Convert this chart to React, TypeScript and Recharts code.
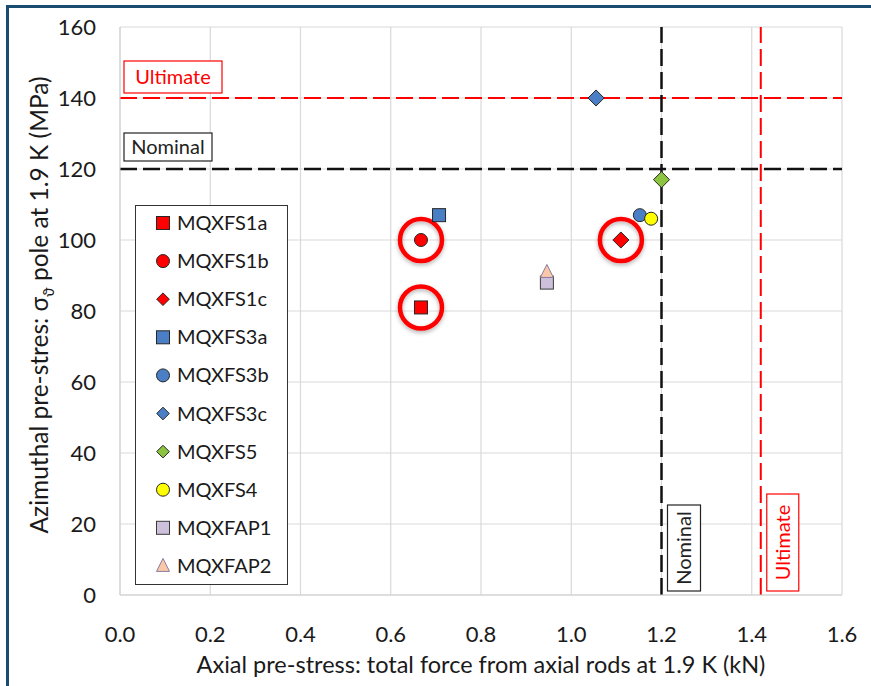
import React from "react";
import {
  ScatterChart,
  Scatter,
  XAxis,
  YAxis,
  CartesianGrid,
  ReferenceLine,
} from "recharts";

// Magnet pre-stress measurements at 1.9 K: axial force (kN) vs azimuthal stress (MPa)
const MQXFS1a = [{ x: 0.667, y: 81 }];
const MQXFS1b = [{ x: 0.667, y: 100 }];
const MQXFS1c = [{ x: 1.11, y: 100 }];
const MQXFS3a = [{ x: 0.707, y: 107 }];
const MQXFS3b = [{ x: 1.152, y: 107 }];
const MQXFS3c = [{ x: 1.055, y: 140 }];
const MQXFS5 = [{ x: 1.2, y: 117 }];
const MQXFS4 = [{ x: 1.177, y: 106 }];
const MQXFAP1 = [{ x: 0.946, y: 88 }];
const MQXFAP2 = [{ x: 0.946, y: 91 }];

// Points circled on the plot
const circled = [...MQXFS1a, ...MQXFS1b, ...MQXFS1c];

// Design limits
const NOMINAL_AXIAL = 1.2;
const ULTIMATE_AXIAL = 1.42;
const NOMINAL_AZIMUTHAL = 120;
const ULTIMATE_AZIMUTHAL = 140;

const xTicks = [0, 0.2, 0.4, 0.6, 0.8, 1.0, 1.2, 1.4, 1.6];
const yTicks = [0, 20, 40, 60, 80, 100, 120, 140, 160];

const FONT = "Lato, 'Open Sans', sans-serif";
const OUTLINE = "#262626";
const DASH = "17 6";

type Kind = "square" | "circle" | "diamond" | "triangle";

const seriesList: { name: string; data: { x: number; y: number }[]; kind: Kind; fill: string; stroke: string }[] = [
  { name: "MQXFS1a", data: MQXFS1a, kind: "square", fill: "#ff0000", stroke: OUTLINE },
  { name: "MQXFS1b", data: MQXFS1b, kind: "circle", fill: "#ff0000", stroke: OUTLINE },
  { name: "MQXFS1c", data: MQXFS1c, kind: "diamond", fill: "#ff0000", stroke: OUTLINE },
  { name: "MQXFS3a", data: MQXFS3a, kind: "square", fill: "#4a7fc6", stroke: OUTLINE },
  { name: "MQXFS3b", data: MQXFS3b, kind: "circle", fill: "#4a7fc6", stroke: OUTLINE },
  { name: "MQXFS3c", data: MQXFS3c, kind: "diamond", fill: "#4a7fc6", stroke: OUTLINE },
  { name: "MQXFS5", data: MQXFS5, kind: "diamond", fill: "#8cc43f", stroke: OUTLINE },
  { name: "MQXFS4", data: MQXFS4, kind: "circle", fill: "#ffff00", stroke: OUTLINE },
  { name: "MQXFAP1", data: MQXFAP1, kind: "square", fill: "#ccc0da", stroke: "#3a3a3a" },
  { name: "MQXFAP2", data: MQXFAP2, kind: "triangle", fill: "#f8c8a8", stroke: "#8a7aa0" },
];

function Marker({ kind, cx, cy, fill, stroke, size }: { kind: Kind; cx: number; cy: number; fill: string; stroke: string; size: number }) {
  const h = size / 2;
  if (kind === "square") {
    return <rect x={cx - h} y={cy - h} width={size} height={size} fill={fill} stroke={stroke} strokeWidth={1} />;
  }
  if (kind === "circle") {
    return <circle cx={cx} cy={cy} r={h} fill={fill} stroke={stroke} strokeWidth={1} />;
  }
  if (kind === "diamond") {
    const d = h * 1.15;
    return (
      <polygon
        points={`${cx},${cy - d} ${cx + d},${cy} ${cx},${cy + d} ${cx - d},${cy}`}
        fill={fill}
        stroke={stroke}
        strokeWidth={1}
      />
    );
  }
  return (
    <polygon
      points={`${cx},${cy - h - 1} ${cx + h},${cy + h - 1} ${cx - h},${cy + h - 1}`}
      fill={fill}
      stroke={stroke}
      strokeWidth={1}
    />
  );
}

function XTick(props: any) {
  const { x, y, payload } = props;
  return (
    <text x={x} y={y + 39} textAnchor="middle" fontSize={22} fontFamily={FONT} fill="#1a1a1a">
      {Number(payload.value).toFixed(1)}
    </text>
  );
}

function YTick(props: any) {
  const { y, payload } = props;
  return (
    <text x={96} y={y + 8} textAnchor="end" fontSize={22} fontFamily={FONT} fill="#1a1a1a">
      {payload.value}
    </text>
  );
}

function HBoxLabel({ viewBox, text, color, width, height, gap }: any) {
  const x = viewBox.x + 4;
  const y = viewBox.y - gap - height;
  return (
    <g>
      <rect x={x} y={y} width={width} height={height} fill="#ffffff" stroke={color} strokeWidth={1.2} />
      <text
        x={x + width / 2}
        y={y + height / 2 + 7}
        textAnchor="middle"
        fontSize={20}
        fontFamily={FONT}
        fill={color}
      >
        {text}
      </text>
    </g>
  );
}

function VBoxLabel({ viewBox, text, color, width, height }: any) {
  const x = viewBox.x + 6;
  const bottom = viewBox.y + viewBox.height - 4;
  const y = bottom - height;
  const cx = x + width / 2;
  const cy = y + height / 2;
  return (
    <g>
      <rect x={x} y={y} width={width} height={height} fill="#ffffff" stroke={color} strokeWidth={1.2} />
      <text
        x={cx}
        y={cy + 7}
        textAnchor="middle"
        fontSize={20}
        fontFamily={FONT}
        fill={color}
        transform={`rotate(-90 ${cx} ${cy})`}
      >
        {text}
      </text>
    </g>
  );
}

function LegendBox() {
  return (
    <div
      style={{
        position: "absolute",
        left: 135,
        top: 205,
        width: 153,
        height: 380,
        border: "1.5px solid #333",
        background: "#fff",
        boxSizing: "border-box",
      }}
    >
      <svg width={150} height={377} style={{ display: "block" }}>
        {seriesList.map((s, i) => {
          const cy = 17 + i * 38.1;
          return (
            <g key={s.name}>
              <Marker kind={s.kind} cx={27} cy={cy} fill={s.fill} stroke={s.stroke} size={s.kind === "diamond" ? 11 : 13} />
              <text x={41} y={cy + 7} fontSize={20} fontFamily={FONT} fill="#1a1a1a">
                {s.name}
              </text>
            </g>
          );
        })}
      </svg>
    </div>
  );
}

export default function App() {
  return (
    <div style={{ position: "absolute", left: 0, top: 0, width: 871, height: 686, background: "#fff" }}>
      <div
        style={{
          position: "absolute",
          left: 6,
          top: 5,
          right: 0,
          bottom: 0,
          borderLeft: "3px solid #1a4c70",
          borderTop: "3px solid #1a4c70",
        }}
      />
      <div style={{ position: "absolute", left: 0, top: 0 }}>
        <ScatterChart width={871} height={686} margin={{ top: 27, right: 29, bottom: 31, left: 0 }}>
          <defs>
            <filter id="ringShadow" x="-50%" y="-50%" width="200%" height="200%">
              <feDropShadow dx="0" dy="2" stdDeviation="2" floodColor="#000" floodOpacity="0.3" />
            </filter>
          </defs>
          <CartesianGrid stroke="#d9d9d9" strokeWidth={1.2} />
          <XAxis
            type="number"
            dataKey="x"
            domain={[0, 1.6]}
            ticks={xTicks}
            height={60}
            stroke="#d0d0d0"
            tickLine={false}
            tick={<XTick />}
            interval={0}
          />
          <YAxis
            type="number"
            dataKey="y"
            domain={[0, 160]}
            ticks={yTicks}
            width={120}
            stroke="#d0d0d0"
            tickLine={false}
            tick={<YTick />}
            interval={0}
          />
          <ReferenceLine
            y={ULTIMATE_AZIMUTHAL}
            stroke="#ff0000"
            strokeWidth={2}
            strokeDasharray={DASH}
            label={<HBoxLabel text="Ultimate" color="#ff0000" width={98} height={32} gap={5} />}
          />
          <ReferenceLine
            y={NOMINAL_AZIMUTHAL}
            stroke="#111"
            strokeWidth={2.5}
            strokeDasharray={DASH}
            label={<HBoxLabel text="Nominal" color="#222" width={88} height={28} gap={8} />}
          />
          <ReferenceLine
            x={NOMINAL_AXIAL}
            stroke="#111"
            strokeWidth={2.5}
            strokeDasharray={DASH}
            label={<VBoxLabel text="Nominal" color="#222" width={33} height={86} />}
          />
          <ReferenceLine
            x={ULTIMATE_AXIAL}
            stroke="#ff0000"
            strokeWidth={2}
            strokeDasharray={DASH}
            label={<VBoxLabel text="Ultimate" color="#ff0000" width={32} height={97} />}
          />
          <Scatter
            name="circled"
            data={circled}
            legendType="none"
            isAnimationActive={false}
            shape={(p: any) => (
              <circle cx={p.cx} cy={p.cy} r={21} fill="none" stroke="#ff0000" strokeWidth={4.5} filter="url(#ringShadow)" />
            )}
          />
          {seriesList.map((s) => (
            <Scatter
              key={s.name}
              name={s.name}
              data={s.data}
              isAnimationActive={false}
              shape={(p: any) => (
                <Marker
                  kind={s.kind}
                  cx={p.cx}
                  cy={p.cy}
                  fill={s.fill}
                  stroke={s.stroke}
                  size={s.kind === "diamond" ? 14 : 13}
                />
              )}
            />
          ))}
          <text x={481} y={673} textAnchor="middle" fontSize={23.5} fontFamily={FONT} fill="#1a1a1a">
            Axial pre-stress: total force from axial rods at 1.9 K (kN)
          </text>
          <text
            x={0}
            y={0}
            textAnchor="middle"
            fontSize={24.5}
            fontFamily={FONT}
            fill="#1a1a1a"
            transform="translate(48 305) rotate(-90)"
          >
            Azimuthal pre-stres: σ
            <tspan fontSize={15} dy={6}>ϑ</tspan>
            <tspan dy={-6}> pole at 1.9 K (MPa)</tspan>
          </text>
        </ScatterChart>
      </div>
      <LegendBox />
    </div>
  );
}
